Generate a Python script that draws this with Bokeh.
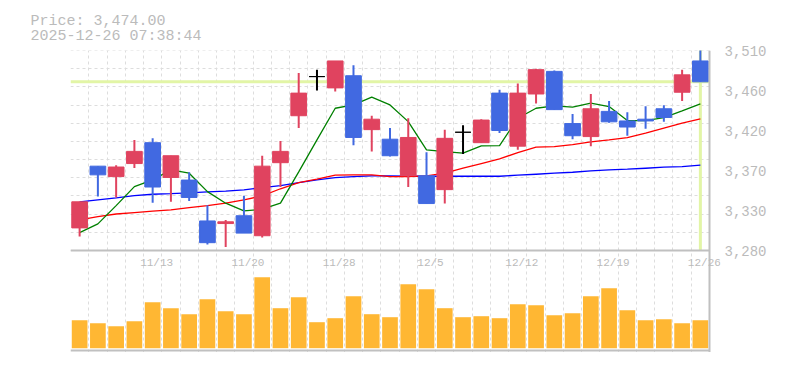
from bokeh.plotting import figure
from bokeh.models import (Range1d, FixedTicker, Grid, Span, Title, LabelSet,
                          ColumnDataSource)
from bokeh.core.properties import value
from bokeh.embed import file_html
from bokeh.resources import INLINE

# ---------------- data ----------------
dates = ["11/7", "11/10", "11/11", "11/12", "11/13", "11/14", "11/17", "11/18",
         "11/19", "11/20", "11/21", "11/25", "11/26", "11/27", "11/28", "12/1",
         "12/2", "12/3", "12/4", "12/5", "12/8", "12/9", "12/10", "12/11",
         "12/12", "12/15", "12/16", "12/17", "12/18", "12/19", "12/22", "12/23",
         "12/24", "12/25", "12/26"]
opens = [3306, 3377, 3365, 3380, 3404, 3364, 3361, 3314, 3311, 3320, 3297, 3381,
         3435, 3480, 3467, 3481, 3419, 3408, 3366, 3366, 3350, 3416, 3404, 3461,
         3400, 3460, 3486, 3426, 3411, 3440, 3429, 3431, 3443, 3462, 3498]
highs = [3336, 3377, 3378, 3407, 3409, 3389, 3370, 3332, 3315, 3343, 3389, 3406,
         3484, 3488, 3498, 3493, 3435, 3421, 3432, 3393, 3419, 3424, 3431, 3465,
         3472, 3489, 3487, 3437, 3460, 3452, 3439, 3446, 3447, 3488, 3516]
lows = [3296, 3342, 3341, 3375, 3335, 3336, 3337, 3287, 3284, 3300, 3295, 3353,
        3421, 3464, 3463, 3401, 3394, 3388, 3353, 3334, 3334, 3391, 3404, 3415,
        3396, 3449, 3442, 3408, 3400, 3427, 3412, 3420, 3428, 3452, 3474]
closes = [3336, 3367, 3376, 3394, 3353, 3389, 3341, 3289, 3313, 3300, 3377, 3394,
          3461, 3480, 3498, 3410, 3431, 3389, 3410, 3334, 3409, 3416, 3430, 3418,
          3461, 3488, 3442, 3412, 3443, 3428, 3422, 3429, 3433, 3482, 3474]
ma_short = [3300.6, 3310.6, 3331.6, 3353.5, 3361.2, 3372.7, 3368.9, 3347.7, 3334.4,
            3325.5, 3327.5, 3334.4, 3370.4, 3407.2, 3443.6, 3447.4, 3456.3, 3447.4,
            3428.2, 3395.7, 3393.7, 3391.9, 3400.3, 3400.6, 3432.1, 3443.6, 3446.3,
            3444.8, 3449.4, 3445.5, 3429.4, 3429.4, 3432.8, 3440.5, 3448.6]
ma_mid = [3315.2, 3319.0, 3322.0, 3323.6, 3325.2, 3326.7, 3329.3, 3331.6, 3334.4,
          3338.2, 3342.8, 3351.0, 3358.1, 3362.0, 3366.6, 3367.0, 3367.0, 3365.0,
          3365.0, 3365.8, 3368.9, 3374.6, 3380.0, 3385.3, 3392.6, 3398.8, 3399.5,
          3401.8, 3404.9, 3407.2, 3409.8, 3414.9, 3420.6, 3426.4, 3431.3]
ma_long = [3335.9, 3338.2, 3340.5, 3343.1, 3344.7, 3345.4, 3346.2, 3347.4, 3348.2,
           3349.7, 3352.3, 3354.6, 3358.1, 3361.2, 3363.8, 3365.0, 3365.8, 3365.8,
           3365.4, 3365.4, 3365.4, 3365.4, 3365.4, 3365.4, 3366.6, 3367.7, 3368.9,
           3370.0, 3371.5, 3372.7, 3373.5, 3374.6, 3375.8, 3376.5, 3378.1]
volumes = [280, 250, 220, 270, 460, 400, 340, 490, 370, 340, 710, 400, 510, 260,
           300, 520, 340, 310, 640, 590, 400, 310, 320, 300, 440, 430, 330, 350,
           520, 600, 380, 280, 290, 250, 280]
price_ticks = [3280, 3326, 3372, 3418, 3464, 3510]
price_tick_labels = ["3,280", "3,330", "3,370", "3,420", "3,460", "3,510"]
date_labels = ["11/13", "11/20", "11/28", "12/5", "12/12", "12/19", "12/26"]
current_price = 3474.00
title_text = "Price: 3,474.00\n2025-12-26 07:38:44"

# ---------------- styles / layout ----------------
UP = "#e0435f"
DOWN = "#4169e1"
FLAT = "#000000"
VOL = "#ffb733"
GRID = "#dddddd"
FRAME = "#c0c0c0"
TXT = "#bbbbbb"
CROSS = "#e2f5a6"
MONO = "Liberation Mono"

n = len(dates)
xs = list(range(n))
colors = [UP if c > o else (DOWN if c < o else FLAT) for o, c in zip(opens, closes)]
src = ColumnDataSource(dict(
    x=xs, h=highs, l=lows,
    top=[max(o, c) for o, c in zip(opens, closes)],
    bot=[min(o, c) for o, c in zip(opens, closes)],
    color=colors, ms=ma_short, mm=ma_mid, ml=ma_long, vol=volumes))

PRICE_H = 200          # px of the price panel
VOL_H = 100            # px of the volume panel
EXTRA_B = 2            # px below the volume panel border
FRAME_W = 650          # px (candle area is 639 px, plus room for last label)
x_lo, x_hi = -0.5, n - 0.5
unit = 639.0 / n       # px per candle
x_end = x_lo + FRAME_W / unit

y_lo, y_hi = price_ticks[0], price_ticks[-1]
ppp = (y_hi - y_lo) / PRICE_H          # price per px
y_bottom = y_lo - (VOL_H + EXTRA_B) * ppp
vol_pp = 10.0                          # volume units per px
v_start = -(EXTRA_B + 2.3) * vol_pp
v_end = v_start + (PRICE_H + VOL_H + EXTRA_B) * vol_pp

p = figure(width=70 + FRAME_W + 54, height=50 + PRICE_H + VOL_H + EXTRA_B,
           x_range=Range1d(x_lo, x_end), y_range=Range1d(y_bottom, y_hi + 0.01),
           x_axis_location=None, y_axis_location="right",
           toolbar_location=None, output_backend="svg",
           min_border_left=70, min_border_right=54, min_border_top=50,
           min_border_bottom=0, outline_line_color=None)
p.extra_y_ranges = {"vol": Range1d(v_start, v_end)}
p.center = []

vgrid = Grid(dimension=0, ticker=FixedTicker(ticks=[i - 0.5 for i in range(n + 1)]),
             grid_line_color=GRID, grid_line_dash="3 3")
hgrid = Grid(dimension=1,
             ticker=FixedTicker(ticks=[y_lo + (y_hi - y_lo) * k / 11 for k in range(12)]),
             grid_line_color=GRID, grid_line_dash="3 3")
if "cross_bounds" in Grid.properties():
    hgrid.cross_bounds = (x_lo, x_hi)
p.add_layout(vgrid)
p.add_layout(hgrid)

ax = p.yaxis[0]
ax.ticker = FixedTicker(ticks=price_ticks)
ax.major_label_overrides = {t: s for t, s in zip(price_ticks, price_tick_labels)}
ax.axis_line_color = None
ax.major_tick_line_color = None
ax.minor_tick_line_color = None
ax.major_tick_out = 0
ax.major_tick_in = 0
ax.major_label_standoff = 4
ax.major_label_text_font = MONO
ax.major_label_text_font_size = "14px"
ax.major_label_text_color = TXT

# crosshair of the current price
p.segment(x0=[x_lo], y0=[current_price], x1=[x_hi], y1=[current_price],
          line_color=CROSS, line_width=3)
p.segment(x0=[xs[-1]], y0=[y_lo], x1=[xs[-1]], y1=[y_hi + 5],
          line_color=CROSS, line_width=3)

# volume
p.vbar(x="x", width=0.86, top="vol", bottom=0, source=src, y_range_name="vol",
       fill_color=VOL, line_color=None)

# moving averages
p.line("x", "ml", source=src, line_color="#0000ff", line_width=1.3)
p.line("x", "mm", source=src, line_color="#ff0000", line_width=1.3)
p.line("x", "ms", source=src, line_color="#008000", line_width=1.3)

# candles (price panel only)
p.segment("x", "h", "x", "l", source=src, line_color="color", line_width=2)
p.vbar(x="x", width=0.86, top="top", bottom="bot", source=src,
       fill_color="color", line_color="color", line_width=1)

# panel borders
p.segment(x0=[x_lo, x_lo], y0=[y_lo, y_lo - VOL_H * ppp],
          x1=[x_hi, x_hi], y1=[y_lo, y_lo - VOL_H * ppp],
          line_color=FRAME, line_width=2)
p.add_layout(Span(location=x_hi, dimension="height", line_color=FRAME, line_width=2))

# date labels inside the volume panel
lab_src = ColumnDataSource(dict(
    x=[dates.index(d) for d in date_labels],
    y=[y_lo - 12 * ppp] * len(date_labels),
    text=date_labels))
p.add_layout(LabelSet(x="x", y="y", text="text", source=lab_src, x_offset=4,
                      text_align="center", text_baseline="middle",
                      text_font=value(MONO), text_font_size=value("11px"),
                      text_color=TXT))

p.add_layout(Title(text=title_text, text_font=MONO, text_font_size="15px",
                   text_color=TXT, text_font_style="normal", align="left",
                   offset=-40, standoff=11, text_line_height=0.88), "above")

open("out.html", "w").write(file_html(p, INLINE))
